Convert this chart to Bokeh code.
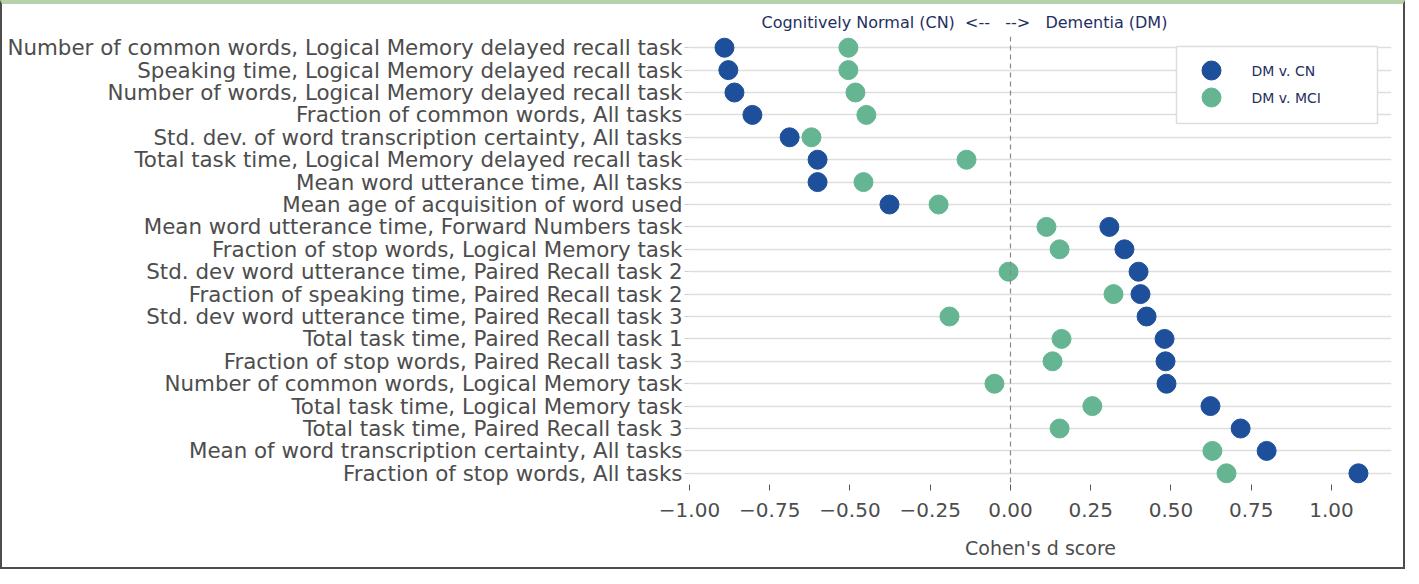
from bokeh.plotting import figure
from bokeh.models import (Range1d, Span, Title, FixedTicker,
                          CustomJSTickFormatter, ColumnDataSource)
from bokeh.core.properties import value
from bokeh.embed import file_html
from bokeh.resources import INLINE

features = [
    "Number of common words, Logical Memory delayed recall task",
    "Speaking time, Logical Memory delayed recall task",
    "Number of words, Logical Memory delayed recall task",
    "Fraction of common words, All tasks",
    "Std. dev. of word transcription certainty, All tasks",
    "Total task time, Logical Memory delayed recall task",
    "Mean word utterance time, All tasks",
    "Mean age of acquisition of word used",
    "Mean word utterance time, Forward Numbers task",
    "Fraction of stop words, Logical Memory task",
    "Std. dev word utterance time, Paired Recall task 2",
    "Fraction of speaking time, Paired Recall task 2",
    "Std. dev word utterance time, Paired Recall task 3",
    "Total task time, Paired Recall task 1",
    "Fraction of stop words, Paired Recall task 3",
    "Number of common words, Logical Memory task",
    "Total task time, Logical Memory task",
    "Total task time, Paired Recall task 3",
    "Mean of word transcription certainty, All tasks",
    "Fraction of stop words, All tasks",
]
dm_vs_cn = [-0.891, -0.879, -0.860, -0.804, -0.688, -0.601, -0.601, -0.377,
            0.308, 0.355, 0.399, 0.405, 0.424, 0.480, 0.483, 0.486,
            0.623, 0.717, 0.798, 1.084]
dm_vs_mci = [-0.505, -0.505, -0.483, -0.449, -0.620, -0.137, -0.458, -0.224,
             0.112, 0.153, -0.006, 0.321, -0.190, 0.159, 0.131, -0.050,
             0.255, 0.153, 0.629, 0.673]
x_ticks = [-1.0, -0.75, -0.5, -0.25, 0.0, 0.25, 0.5, 0.75, 1.0]
series_names = ["DM v. CN", "DM v. MCI"]
x_label = "Cohen's d score"
NB = "\u00a0"
caption = ("Cognitively Normal (CN)" + NB * 2 + "<--" + NB * 3 + "-->"
           + NB * 3 + "Dementia (DM)")

BLUE = "#1d4f9a"
GREEN = "#66b592"
NAVY = "#1f2f62"
TXT = "#4d4d4d"
FONT = "DejaVu Sans"

rows = list(range(len(features)))
src = ColumnDataSource(dict(row=rows, feature=features, cn=dm_vs_cn, mci=dm_vs_mci))

FRAME_W, FRAME_H = 702, 448

p = figure(width=1405, height=569,
           y_range=Range1d(len(features) - 0.5, -0.5),
           x_range=Range1d(-1.0, 1.187),
           output_backend="svg", toolbar_location=None,
           min_border_left=687, min_border_right=16,
           min_border_top=32, min_border_bottom=89)
p.styles = {"border": "2px solid #4d4d4d", "border-top": "4px solid #b7d1ab"}
p.outline_line_color = None
p.background_fill_color = "white"
p.border_fill_color = "white"
# pixel-space ranges for the legend box (relative to the plot frame)
p.extra_x_ranges = {"px": Range1d(0, FRAME_W)}
p.extra_y_ranges = {"px": Range1d(0, FRAME_H)}

p.xgrid.visible = False
p.ygrid.grid_line_color = "#dedede"
p.ygrid.grid_line_width = 1.5

xa = p.xaxis[0]
xa.ticker = FixedTicker(ticks=x_ticks)
xa.formatter = CustomJSTickFormatter(
    code="return (tick < 0 ? '\\u2212' : '') + Math.abs(tick).toFixed(2);")
xa.axis_line_color = None
xa.major_tick_line_color = "#555555"
xa.major_tick_in = 0
xa.major_tick_out = 6
xa.minor_tick_line_color = None
xa.major_label_text_font = FONT
xa.major_label_text_font_size = "20px"
xa.major_label_text_color = TXT
xa.major_label_standoff = 12
xa.axis_label = x_label
xa.axis_label_text_font = FONT
xa.axis_label_text_font_size = "19px"
xa.axis_label_text_font_style = "normal"
xa.axis_label_text_color = TXT
xa.axis_label_standoff = 17

ya = p.yaxis[0]
ya.ticker = FixedTicker(ticks=rows)
ya.formatter = CustomJSTickFormatter(args=dict(labels=features),
                                     code="return labels[Math.round(tick)];")
ya.axis_line_color = None
ya.major_tick_line_color = "#cccccc"
ya.major_tick_in = 0
ya.major_tick_out = 5
ya.minor_tick_line_color = None
ya.major_label_standoff = 2
ya.major_label_text_font = FONT
ya.major_label_text_font_size = "21.4px"
ya.major_label_text_color = TXT

p.add_layout(Span(location=0, dimension="height", line_color="#888888",
                  line_dash="5 4", line_width=1.2))

r1 = p.scatter(x="cn", y="row", source=src, size=19, color=BLUE)
r2 = p.scatter(x="mci", y="row", source=src, size=19, color=GREEN)

# legend box drawn in frame pixel space
p.quad(left=[487], right=[688], bottom=[361], top=[438],
       fill_color="white", line_color="#dddddd", line_width=1.5,
       x_range_name="px", y_range_name="px")
p.scatter(x=[522, 522], y=[414, 387], size=19, color=[BLUE, GREEN],
          x_range_name="px", y_range_name="px")
p.text(x=[562, 562], y=[414, 387], text=series_names,
       text_font=value(FONT), text_font_size="14px", text_color=NAVY,
       text_baseline="middle", text_align="left",
       x_range_name="px", y_range_name="px")

p.add_layout(Title(text=caption, align="left", offset=72, standoff=10,
                   text_font=FONT, text_font_size="16px",
                   text_font_style="normal", text_color=NAVY), "above")

open("out.html", "w").write(file_html(p, INLINE))
